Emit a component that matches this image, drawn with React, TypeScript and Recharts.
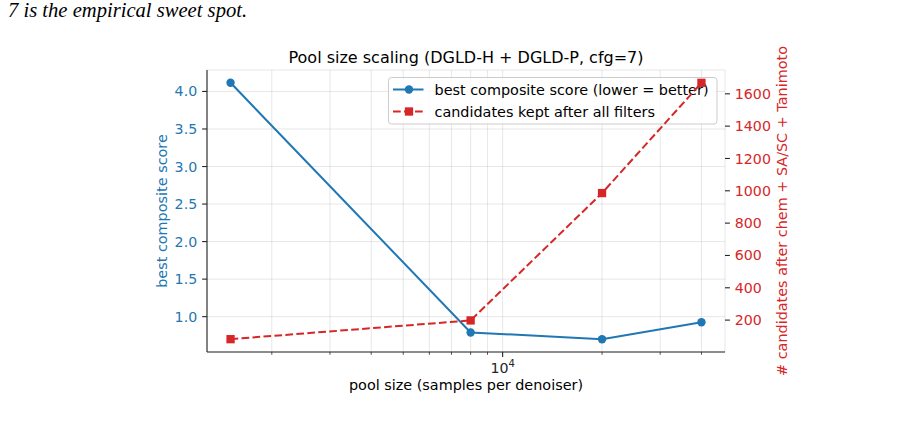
import React from "react";
import { ComposedChart, Line, XAxis, YAxis, CartesianGrid } from "recharts";

// Pool sizes (samples per denoiser) and the two measured series
const poolSizes = [1500, 8000, 20000, 40000];
const bestScore = [4.115, 0.79, 0.7, 0.925];
const keptCount = [82, 198, 986, 1668];

// Axis ticks
const xTicks = [2000, 3000, 4000, 5000, 6000, 7000, 8000, 9000, 10000, 20000, 30000, 40000];
const xMajorTicks = [10000];
const leftTicks = [1.0, 1.5, 2.0, 2.5, 3.0, 3.5, 4.0];
const rightTicks = [200, 400, 600, 800, 1000, 1200, 1400, 1600];

const data = poolSizes.map((p, i) => ({ pool: p, best: bestScore[i], kept: keptCount[i] }));

const BLUE = "#1f77b4";
const RED = "#d62728";
const FONT = "DejaVu Sans, sans-serif";
const TICK_FS = 14.2;
const LABEL_FS = 14.4;

// 5% padding like matplotlib autoscale
const padLinear = (vals: number[]): [number, number] => {
  const lo = Math.min(...vals);
  const hi = Math.max(...vals);
  const m = (hi - lo) * 0.05;
  return [lo - m, hi + m];
};
const padLog = (vals: number[]): [number, number] => {
  const lo = Math.log10(Math.min(...vals));
  const hi = Math.log10(Math.max(...vals));
  const m = (hi - lo) * 0.05;
  return [Math.pow(10, lo - m), Math.pow(10, hi + m)];
};

const xDomain = padLog(poolSizes);
const leftDomain = padLinear(bestScore);
const rightDomain = padLinear(keptCount);

const W = 923;
const H = 437;
const MARGIN = { top: 70, right: 0, bottom: 0, left: 0 };
const LEFT_W = 207;
const RIGHT_W = 198;
const X_H = 85;
const DASH = "7.7 3.3";

const XTick = (props: any) => {
  const { x, y, payload } = props;
  const major = xMajorTicks.includes(payload.value);
  return (
    <g>
      <line x1={x} x2={x} y1={y} y2={y + (major ? 4.9 : 2.8)} stroke="#262626" strokeWidth={major ? 1.1 : 0.8} />
      {major && (
        <text x={x} y={y + 20.5} textAnchor="middle" fontFamily={FONT} fontSize={TICK_FS} fill="#262626">
          <tspan>10</tspan>
          <tspan dy={-5.5} fontSize={10}>4</tspan>
        </text>
      )}
    </g>
  );
};

const SquareDot = (props: any) => {
  const { cx, cy } = props;
  if (cx == null || cy == null) return null;
  return <rect x={cx - 4.15} y={cy - 4.15} width={8.3} height={8.3} fill={RED} />;
};

const CircleDot = (props: any) => {
  const { cx, cy } = props;
  if (cx == null || cy == null) return null;
  return <circle cx={cx} cy={cy} r={4.2} fill={BLUE} />;
};

export default function App() {
  const layer: React.CSSProperties = { position: "absolute", left: 0, top: 0 };
  return (
    <div style={{ position: "absolute", left: 0, top: 0, width: W, height: H, background: "#fff" }}>
      {/* last line of the surrounding caption text */}
      <div
        style={{
          position: "absolute",
          left: 8,
          top: 0,
          lineHeight: "21px",
          fontFamily: "Liberation Serif, serif",
          fontStyle: "italic",
          fontSize: 20.6,
          color: "#000",
          whiteSpace: "nowrap",
        }}
      >
        7 is the empirical sweet spot.
      </div>

      {/* base layer: grid, axes, score line */}
      <div style={layer}>
        <ComposedChart width={W} height={H} data={data} margin={MARGIN}>
          <CartesianGrid
            yAxisId="left"
            xAxisId="x"
            stroke="#b0b0b0"
            strokeOpacity={0.35}
            strokeWidth={0.9}
          />
          <XAxis
            xAxisId="x"
            dataKey="pool"
            type="number"
            scale="log"
            domain={xDomain}
            allowDataOverflow
            ticks={xTicks}
            interval={0}
            height={X_H}
            tickSize={0}
            tickMargin={0}
            tickLine={false}
            axisLine={{ stroke: "#262626", strokeWidth: 1.1 }}
            tick={<XTick />}
          />
          <YAxis
            yAxisId="left"
            orientation="left"
            type="number"
            domain={leftDomain}
            allowDataOverflow
            ticks={leftTicks}
            interval={0}
            width={LEFT_W}
            tickSize={4.9}
            tickMargin={4.9}
            tickFormatter={(v: number) => v.toFixed(1)}
            tick={{ fill: BLUE, fontSize: TICK_FS, fontFamily: FONT }}
            tickLine={{ stroke: "#262626", strokeWidth: 1.1 }}
            axisLine={{ stroke: "#262626", strokeWidth: 1.1 }}
          />
          <YAxis
            yAxisId="right"
            orientation="right"
            type="number"
            domain={rightDomain}
            allowDataOverflow
            ticks={rightTicks}
            interval={0}
            width={RIGHT_W}
            tickSize={4.9}
            tickMargin={4.9}
            tick={{ fill: RED, fontSize: TICK_FS, fontFamily: FONT }}
            tickLine={{ stroke: "#262626", strokeWidth: 1.1 }}
            axisLine={false}
          />
          <Line
            xAxisId="x"
            yAxisId="left"
            dataKey="best"
            stroke={BLUE}
            strokeWidth={2}
            dot={<CircleDot />}
            activeDot={false}
            isAnimationActive={false}
          />
        </ComposedChart>
      </div>

      {/* title, axis labels, legend */}
      <svg width={W} height={H} style={{ ...layer, pointerEvents: "none" }}>
        <text x={466} y={63} textAnchor="middle" fontFamily={FONT} fontSize={16} fill="#000">
          Pool size scaling (DGLD-H + DGLD-P, cfg=7)
        </text>
        <text x={466} y={389.5} textAnchor="middle" fontFamily={FONT} fontSize={LABEL_FS} fill="#000">
          pool size (samples per denoiser)
        </text>
        <text
          x={0}
          y={0}
          transform="translate(161.5 211) rotate(-90)"
          textAnchor="middle"
          dominantBaseline="central"
          fontFamily={FONT}
          fontSize={LABEL_FS}
          fill={BLUE}
        >
          best composite score
        </text>
        <text
          x={0}
          y={0}
          transform="translate(782 211) rotate(-90)"
          textAnchor="middle"
          dominantBaseline="central"
          fontFamily={FONT}
          fontSize={LABEL_FS}
          fill={RED}
        >
          # candidates after chem + SA/SC + Tanimoto
        </text>
        <g transform="translate(388.5 77.5)">
          <rect x={0} y={0} width={328.5} height={46.5} rx={3} fill="#fff" fillOpacity={0.8} stroke="#cccccc" strokeWidth={1} />
          <line x1={4.5} x2={35} y1={12} y2={12} stroke={BLUE} strokeWidth={2} />
          <circle cx={20.5} cy={12} r={4.2} fill={BLUE} />
          <text x={46} y={12.5} dominantBaseline="central" fontFamily={FONT} fontSize={LABEL_FS} fill="#000">
            best composite score (lower = better)
          </text>
          <line x1={4.5} x2={35} y1={34} y2={34} stroke={RED} strokeWidth={2} strokeDasharray={DASH} />
          <rect x={16.35} y={29.85} width={8.3} height={8.3} fill={RED} />
          <text x={46} y={34.5} dominantBaseline="central" fontFamily={FONT} fontSize={LABEL_FS} fill="#000">
            candidates kept after all filters
          </text>
        </g>
      </svg>

      {/* top layer: kept-candidates line drawn over the legend */}
      <div style={{ ...layer, pointerEvents: "none" }}>
        <ComposedChart width={W} height={H} data={data} margin={MARGIN}>
          <XAxis
            xAxisId="x"
            dataKey="pool"
            type="number"
            scale="log"
            domain={xDomain}
            allowDataOverflow
            ticks={xTicks}
            height={X_H}
            tick={false}
            tickLine={false}
            axisLine={false}
          />
          <YAxis yAxisId="left" orientation="left" type="number" domain={leftDomain} allowDataOverflow width={LEFT_W} tick={false} tickLine={false} axisLine={false} />
          <YAxis yAxisId="right" orientation="right" type="number" domain={rightDomain} allowDataOverflow width={RIGHT_W} tick={false} tickLine={false} axisLine={false} />
          <Line
            xAxisId="x"
            yAxisId="right"
            dataKey="kept"
            stroke={RED}
            strokeWidth={2}
            strokeDasharray={DASH}
            dot={<SquareDot />}
            activeDot={false}
            isAnimationActive={false}
          />
        </ComposedChart>
      </div>
    </div>
  );
}
